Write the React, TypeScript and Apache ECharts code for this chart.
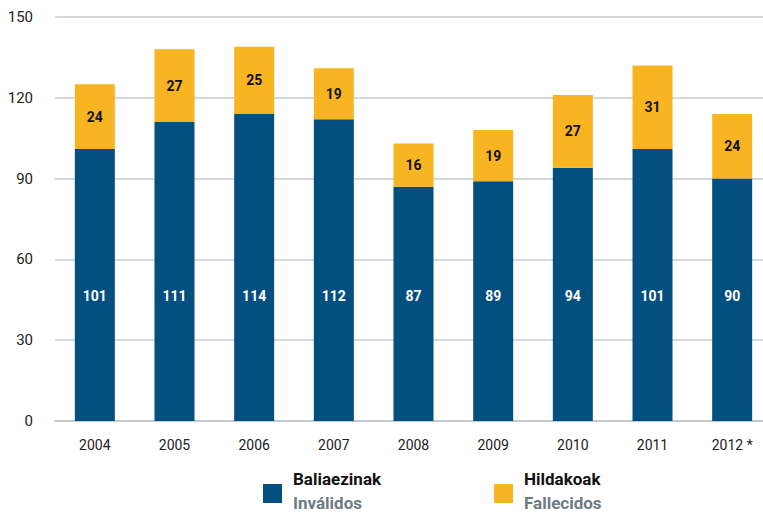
import React, { useEffect, useRef } from "react";
import * as echarts from "echarts";

const categories = ["2004", "2005", "2006", "2007", "2008", "2009", "2010", "2011", "2012 *"];
const invalidos = [101, 111, 114, 112, 87, 89, 94, 101, 90];
const fallecidos = [24, 27, 25, 19, 16, 19, 27, 31, 24];
const yTicks = { min: 0, max: 150, interval: 30 };
const legendMain = ["Baliaezinak", "Hildakoak"];
const legendSub = ["Inválidos", "Fallecidos"];

const BLUE = "#034f80";
const YELLOW = "#f8b521";
const FONT = "Roboto, 'DejaVu Sans', sans-serif";

export default function App() {
  const ref = useRef<HTMLDivElement>(null);
  useEffect(() => {
    if (!ref.current) return;
    const chart = echarts.init(ref.current, null, { renderer: "svg" });
    const legendX = [263, 494];
    const legendColors = [BLUE, YELLOW];
    const graphic: any[] = [];
    legendX.forEach((x, i) => {
      graphic.push({ type: "rect", left: x, top: 484, shape: { width: 19, height: 19 }, style: { fill: legendColors[i] } });
      graphic.push({
        type: "text", left: x + 30, top: 470,
        style: { text: legendMain[i], font: `bold 17px ${FONT}`, fill: "#111" },
      });
      graphic.push({
        type: "text", left: x + 30, top: 494,
        style: { text: legendSub[i], font: `bold 17px ${FONT}`, fill: "#6e7b84" },
      });
    });
    chart.setOption({
      animation: false,
      grid: { left: 55, top: 17, right: 0, height: 404, containLabel: false },
      xAxis: {
        type: "category",
        data: categories,
        axisLine: { show: true, lineStyle: { color: "#c3c9cd", width: 2 } },
        axisTick: { show: false },
        axisLabel: { color: "#222", fontFamily: FONT, fontSize: 14, margin: 17 },
      },
      yAxis: {
        type: "value",
        min: yTicks.min,
        max: yTicks.max,
        interval: yTicks.interval,
        axisLine: { show: false },
        axisTick: { show: false },
        splitLine: { lineStyle: { color: "#c6ccd0", width: 1.5 } },
        axisLabel: { color: "#222", fontFamily: FONT, fontSize: 15, margin: 22 },
      },
      series: [
        {
          name: "Inválidos",
          type: "bar",
          stack: "s",
          barWidth: 40,
          data: invalidos,
          itemStyle: { color: BLUE },
          label: {
            show: true,
            position: "insideBottom",
            distance: 118,
            color: "#fff",
            fontWeight: "bold",
            fontFamily: FONT,
            fontSize: 14,
          },
        },
        {
          name: "Fallecidos",
          type: "bar",
          stack: "s",
          barWidth: 40,
          data: fallecidos,
          itemStyle: { color: YELLOW },
          label: {
            show: true,
            position: "inside",
            color: "#111",
            fontWeight: "bold",
            fontFamily: FONT,
            fontSize: 14,
          },
        },
      ],
      graphic,
    });
    return () => chart.dispose();
  }, []);
  return (
    <div style={{ width: 763, height: 513, position: "absolute", left: 0, top: 0, overflow: "hidden" }}>
      <div ref={ref} style={{ width: 772, height: 513, position: "absolute", left: 0, top: 0 }} />
    </div>
  );
}
